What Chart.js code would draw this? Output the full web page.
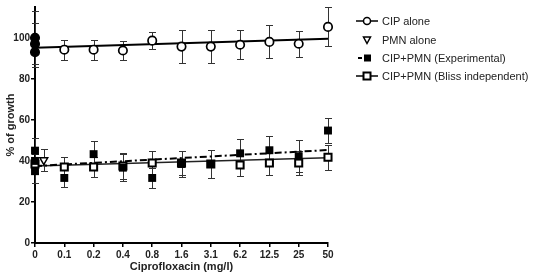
<!DOCTYPE html>
<html><head><meta charset="utf-8">
<script src="https://cdn.jsdelivr.net/npm/chart.js@4"></script>
<style>
html,body{margin:0;padding:0;background:#fff;overflow:hidden;width:545px;height:272px}
#wrap{position:absolute;left:0;top:0;width:545px;height:278px}
#legend{position:absolute;left:355px;top:0;font-family:'Liberation Sans',Arial,sans-serif;font-size:11px;color:#222}
.row{position:absolute;left:0;white-space:nowrap;height:14px;line-height:14px}
.row svg{position:absolute;left:0;top:0}
.row span{position:absolute;left:27px;top:0}
</style></head><body>
<div id="wrap"><canvas id="c" width="545" height="278"></canvas></div>
<div id="legend">
  <div class="row" style="top:14px"><svg width="24" height="14"><line x1="1" y1="7" x2="23" y2="7" stroke="#000" stroke-width="1.5"/><circle cx="12" cy="7" r="3.5" fill="#fff" stroke="#000" stroke-width="1.5"/></svg><span>CIP alone</span></div>
  <div class="row" style="top:33px"><svg width="24" height="14"><polygon points="8.5,4 15.5,4 12,10.5" fill="#fff" stroke="#000" stroke-width="1.5"/></svg><span>PMN alone</span></div>
  <div class="row" style="top:51px"><svg width="24" height="14"><line x1="3" y1="7" x2="7" y2="7" stroke="#000" stroke-width="2"/><rect x="9" y="3.5" width="7" height="7" fill="#000"/></svg><span>CIP+PMN (Experimental)</span></div>
  <div class="row" style="top:69px"><svg width="24" height="14"><line x1="1" y1="7" x2="23" y2="7" stroke="#000" stroke-width="1.5"/><rect x="8.5" y="3.5" width="7" height="7" fill="#fff" stroke="#000" stroke-width="2"/></svg><span>CIP+PMN (Bliss independent)</span></div>
</div>
<script>
const categories = ['0','0.1','0.2','0.4','0.8','1.6','3.1','6.2','12.5','25','50'];

const cipAloneX   = [0, 0, 0, 1, 2, 3, 4, 5, 6, 7, 8, 9, 10];
const cipAlone    = [100, 97, 93, 94.2, 94.2, 93.8, 98.6, 95.7, 95.7, 96.6, 98, 97.1, 105.3];
const cipAloneErr = [13, 10, 7, 4.8, 4.8, 4.8, 4.3, 8, 8, 7, 8, 6.3, 9.5];

const pmnAloneX   = [0.3];
const pmnAlone    = [40.4];
const pmnAloneErr = [5.5];

const expX   = [0, 0, 0, 1, 2, 3, 4, 5, 6, 7, 8, 9, 10];
const expVal = [45, 40, 35, 31.7, 43.3, 36.7, 31.7, 38.5, 38.5, 43.7, 45.2, 42.3, 54.8];
const expErr = [6, 6, 6, 4.5, 6.2, 6.5, 5, 6.3, 6.7, 6.8, 6.7, 7.7, 6];

const blissX   = [0, 1, 2, 3, 4, 5, 6, 7, 8, 9, 10];
const blissVal = [38.5, 37, 37, 37.5, 39, 39, 38.5, 38, 39, 39, 41.8];
const blissErr = [5, 5, 5, 6.5, 5.7, 6, 6.7, 5.3, 5.7, 5.7, 6];

const fitX     = [0, 10];
const cipFit   = [95.2, 99.5];
const expFit   = [37.5, 45.3];
const blissFit = [37.5, 41.5];

const pts = (xs, ys) => xs.map((x, i) => ({x: x, y: ys[i]}));

const errorBars = {
  id: 'errorBars',
  beforeDatasetsDraw(chart) {
    const ctx = chart.ctx, xs = chart.scales.x, ys = chart.scales.y;
    ctx.save();
    ctx.strokeStyle = '#333';
    ctx.lineWidth = 1;
    chart.data.datasets.forEach(ds => {
      if (!ds.errors) return;
      ds.data.forEach((p, j) => {
        const e = ds.errors[j];
        const x = Math.round(xs.getPixelForValue(p.x)) + 0.5;
        const y1 = Math.round(ys.getPixelForValue(p.y + e)) + 0.5;
        const y2 = Math.round(ys.getPixelForValue(p.y - e)) + 0.5;
        ctx.beginPath();
        ctx.moveTo(x, y1); ctx.lineTo(x, y2);
        ctx.moveTo(x - 3.5, y1); ctx.lineTo(x + 3.5, y1);
        ctx.moveTo(x - 3.5, y2); ctx.lineTo(x + 3.5, y2);
        ctx.stroke();
      });
    });
    ctx.restore();
  }
};

const FONT = "'Liberation Sans', Arial, sans-serif";
const zeroBlack = c => (c.raw && c.raw.x === 0) ? '#000' : '#fff';

new Chart(document.getElementById('c'), {
  type: 'scatter',
  data: {
    datasets: [
      { label: 'CIP fit', data: pts(fitX, cipFit), showLine: true, borderColor: '#000', borderWidth: 2, pointRadius: 0, order: 10, clip: false },
      { label: 'Exp fit', data: pts(fitX, expFit), showLine: true, borderColor: '#000', borderWidth: 2, borderDash: [7, 3, 2, 3], pointRadius: 0, order: 10, clip: false },
      { label: 'Bliss fit', data: pts(fitX, blissFit), showLine: true, borderColor: '#222', borderWidth: 1.5, pointRadius: 0, order: 10, clip: false },
      { label: 'CIP+PMN (Bliss independent)', data: pts(blissX, blissVal), errors: blissErr, pointStyle: 'rect', pointRadius: 5, backgroundColor: '#fff', borderColor: '#000', borderWidth: 2, order: 4, clip: false },
      { label: 'CIP+PMN (Experimental)', data: pts(expX, expVal), errors: expErr, pointStyle: 'rect', pointRadius: 5.6, backgroundColor: '#000', borderColor: '#000', borderWidth: 0, order: 3, clip: false },
      { label: 'PMN alone', data: pts(pmnAloneX, pmnAlone), errors: pmnAloneErr, pointStyle: 'triangle', rotation: 180, pointRadius: 4.5, backgroundColor: '#fff', borderColor: '#000', borderWidth: 1.5, order: 2, clip: false },
      { label: 'CIP alone', data: pts(cipAloneX, cipAlone), errors: cipAloneErr, pointStyle: 'circle', pointRadius: 4.2, backgroundColor: zeroBlack, borderColor: '#000', borderWidth: 1.7, order: 1, clip: false }
    ]
  },
  options: {
    responsive: false,
    animation: false,
    devicePixelRatio: 1,
    layout: { padding: { top: 3, right: 217, left: 0, bottom: 0 } },
    plugins: { legend: { display: false }, tooltip: { enabled: false } },
    scales: {
      x: {
        type: 'linear', min: 0, max: 10,
        afterFit: s => { s.height = 35; },
        ticks: { stepSize: 1, autoSkip: false, maxRotation: 0, padding: 2, color: '#222',
                 font: { family: FONT, size: 10, weight: 'bold' },
                 callback: v => categories[v] },
        grid: { drawOnChartArea: false, tickLength: 4, color: '#000', lineWidth: 1.5 },
        border: { color: '#000', width: 2 },
        title: { display: true, text: 'Ciprofloxacin (mg/l)', color: '#222',
                 font: { family: FONT, size: 11, weight: 'bold', lineHeight: 1.2 }, padding: { top: 0, bottom: 4 } }
      },
      y: {
        min: 0, max: 115,
        afterFit: s => { s.width = 35; },
        ticks: { stepSize: 20, includeBounds: false, padding: 1, color: '#222',
                 font: { family: FONT, size: 10, weight: 'bold' } },
        grid: { drawOnChartArea: false, tickLength: 4, color: '#000', lineWidth: 1.5 },
        border: { color: '#000', width: 2 },
        title: { display: true, text: '% of growth', color: '#222',
                 font: { family: FONT, size: 11, weight: 'bold', lineHeight: 1.2 }, padding: { top: 4, bottom: 0 } }
      }
    }
  },
  plugins: [errorBars]
});
</script>
</body></html>
